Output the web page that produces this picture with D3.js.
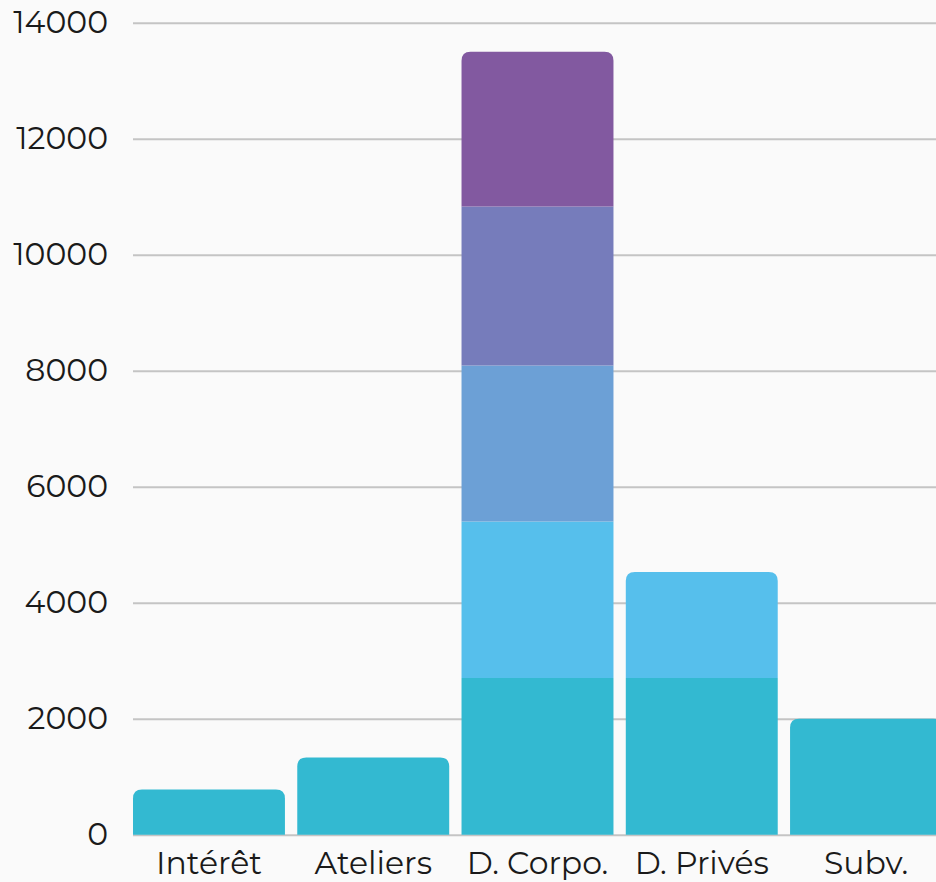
<!DOCTYPE html>
<html><head><meta charset="utf-8">
<script src="https://cdn.jsdelivr.net/npm/d3@7"></script>
<style>
html,body{margin:0;padding:0;background:#fafafa;}
svg{display:block;}
</style></head>
<body><svg id="c" width="936" height="882"></svg>
<script>
const categories = ["Intérêt", "Ateliers", "D. Corpo.", "D. Privés", "Subv."];
const series1 = [780, 1330, 2700, 2700, 2000];
const series2 = [0, 0, 2700, 1830, 0];
const series3 = [0, 0, 2690, 0, 0];
const series4 = [0, 0, 2740, 0, 0];
const series5 = [0, 0, 2670, 0, 0];
const yTicks = [0, 2000, 4000, 6000, 8000, 10000, 12000, 14000];
const colors = ["#33b9d1", "#56bfec", "#6ca0d6", "#767cbb", "#8259a0"];

(function () {
const seriesList = [series1, series2, series3, series4, series5];
const keys = ["s1", "s2", "s3", "s4", "s5"];
const table = categories.map((c, i) => {
  const o = {cat: c};
  keys.forEach((k, j) => o[k] = seriesList[j][i]);
  return o;
});
const stacked = d3.stack().keys(keys)(table);

const svg = d3.select("#c");
const mLeft = 133, mBottom = 834.7, mTop = 22.7;
const x = d3.scaleBand().domain(categories).range([mLeft, 942]).paddingInner(0.075).paddingOuter(0);
const y = d3.scaleLinear().domain([0, 14000]).range([mBottom, mTop]);
const font = "Montserrat, 'DejaVu Sans', sans-serif";

// gridlines
const yAxis = d3.axisLeft(y).tickValues(yTicks).tickSize(-(936 - mLeft)).tickFormat(d3.format("d")).tickPadding(25);
const ga = svg.append("g").attr("transform", `translate(${mLeft},0)`).call(yAxis);
ga.select(".domain").remove();
ga.selectAll(".tick line").attr("stroke", "#c4c4c4").attr("stroke-width", 2);
ga.selectAll(".tick text").attr("font-family", font).attr("font-size", 31.5).attr("fill", "#1a1a1a").attr("x", -25);

// bars
const r = 9;
function roundedTop(x0, y0, w, h, rr) {
  rr = Math.min(rr, h, w / 2);
  return `M${x0},${y0 + h}V${y0 + rr}Q${x0},${y0} ${x0 + rr},${y0}H${x0 + w - rr}Q${x0 + w},${y0} ${x0 + w},${y0 + rr}V${y0 + h}Z`;
}
const topLayer = categories.map((c, i) => {
  let t = 0;
  seriesList.forEach((s, j) => { if (s[i] > 0) t = j; });
  return t;
});
stacked.forEach((layer, j) => {
  svg.append("g").selectAll("path").data(layer.map((d, i) => ({d, i})).filter(o => o.d[1] - o.d[0] > 0)).enter()
    .append("path")
    .attr("fill", colors[j])
    .attr("d", o => {
      const x0 = x(categories[o.i]), w = x.bandwidth();
      const y0 = y(o.d[1]), h = y(o.d[0]) - y(o.d[1]);
      if (topLayer[o.i] === j) return roundedTop(x0, y0, w, h, r);
      return `M${x0},${y0}h${w}v${h}h${-w}Z`;
    });
});

// x labels
const xAxis = d3.axisBottom(x).tickSize(0).tickPadding(0);
const gx = svg.append("g").attr("transform", `translate(0,${mBottom})`).call(xAxis);
gx.select(".domain").remove();
gx.selectAll(".tick text").attr("font-family", font).attr("font-size", 31.5).attr("fill", "#1a1a1a")
  .attr("dy", null).attr("y", 39).attr("text-anchor", "middle");
})();
</script></body></html>
